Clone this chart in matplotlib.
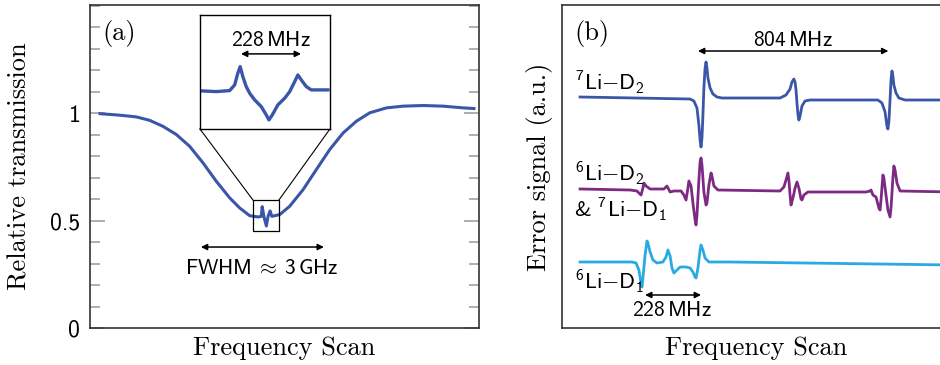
import matplotlib
matplotlib.use("Agg")
import matplotlib.pyplot as plt
from matplotlib.patches import Rectangle
from matplotlib.ticker import MultipleLocator, FixedLocator

# serif (cmr10) for axis labels, sans (cmss10) for annotations
plt.rcParams['mathtext.fontset'] = 'custom'
plt.rcParams['mathtext.rm'] = 'cmss10'
plt.rcParams['mathtext.sf'] = 'cmss10'
plt.rcParams['mathtext.it'] = 'cmss10'
plt.rcParams['mathtext.bf'] = 'cmss10'
plt.rcParams['mathtext.fallback'] = 'cm'

# -----------------------------------------------------------
# DATA
# -----------------------------------------------------------
# (a) broad transmission dip, x in GHz (relative), y relative transmission
dip_x = [-3.98, -3.51, -3.11, -2.79, -2.47, -2.15, -1.83, -1.51, -1.19, -0.87,
         -0.63, -0.39, -0.19, -0.11, -0.09, -0.05, 0.01, 0.05, 0.10, 0.14,
         0.33, 0.57, 0.89, 1.21, 1.53, 1.85, 2.17, 2.49, 2.89, 3.29,
         3.77, 4.25, 4.73, 4.99]
dip_y = [0.998, 0.991, 0.983, 0.967, 0.939, 0.901, 0.846, 0.769, 0.683, 0.606,
         0.559, 0.523, 0.517, 0.520, 0.565, 0.520, 0.475, 0.520, 0.545, 0.520,
         0.528, 0.567, 0.644, 0.738, 0.831, 0.908, 0.963, 1.002, 1.025, 1.033,
         1.036, 1.033, 1.025, 1.022]

# inset: high-resolution scan around the dip centre, x in MHz
ins_x = [-239, -185, -134, -115, -103, -94, -84, -71, -58, -39, -14, 5, 15,
         28, 49, 75, 94, 113, 125, 138, 157, 176, 208, 239]
ins_y = [38.0, 37.3, 38.3, 44.0, 55.7, 62.3, 52.3, 42.3, 35.7, 29.0, 22.3, 14.0,
         9.0, 14.0, 24.0, 30.7, 37.3, 47.3, 54.0, 49.0, 42.3, 39.0, 39.0, 39.0]

# (b) error signals, x in MHz
li7_d2_x = [76, 538, 554, 567, 575, 580, 584, 588, 592, 596, 601, 605, 609, 613,
            622, 634, 651, 672, 916, 941, 958, 966, 974, 979, 983, 987, 991, 995,
            1000, 1008, 1021, 1042, 1327, 1344, 1357, 1365, 1369, 1373, 1378,
            1382, 1386, 1390, 1394, 1403, 1415, 1441, 1640]
li7_d2_y = [0.0, -0.2, -0.4, -1.1, -2.8, -4.3, -5.0, -4.1, -1.8, 0.9, 2.9, 3.5,
            2.9, 1.9, 0.9, 0.3, 0.0, -0.1, -0.1, 0.2, 0.8, 1.5, 1.8, 1.5, 0.7,
            -0.6, -1.7, -2.3, -1.9, -0.9, -0.4, -0.3, -0.3, -0.6, -1.5, -2.9,
            -3.2, -2.5, -0.3, 1.7, 2.6, 2.1, 1.2, 0.4, -0.1, -0.3, -0.3]

mix_x = [76, 286, 315, 323, 332, 340, 344, 353, 370, 428, 441, 454, 470, 500,
         512, 521, 529, 533, 542, 550, 559, 563, 567, 575, 580, 584, 588, 596,
         605, 609, 617, 626, 630, 638, 655, 916, 932, 941, 949, 953, 958, 962,
         970, 979, 987, 995, 1004, 1008, 1016, 1033, 1277, 1294, 1298, 1306,
         1319, 1331, 1336, 1340, 1348, 1352, 1361, 1369, 1378, 1382, 1390,
         1394, 1399, 1407, 1420, 1640]
mix_y = [0.0, -0.1, -0.2, -0.4, -0.6, 0.1, 0.6, 0.3, 0.0, 0.0, 0.3, -0.3, -0.2,
         -0.2, -0.6, -1.1, 0.1, 0.8, 0.3, -1.4, -3.1, -3.6, -2.6, 0.9, 2.7, 3.1,
         2.4, -0.3, -1.6, -1.4, 0.4, 1.6, 1.3, 0.3, -0.1, -0.2, 0.2, 0.9, 1.6,
         0.9, -0.6, -1.6, -0.9, 0.1, 0.7, 0.1, -1.0, -1.1, -0.6, -0.3, -0.3,
         -0.2, -0.1, -0.6, -0.8, -1.9, -2.1, -1.1, 1.4, 1.1, -0.6, -2.1, -2.8,
         -1.9, 1.1, 2.3, 1.9, 0.6, -0.2, -0.3]

li6_d1_x = [76, 294, 311, 323, 332, 336, 340, 349, 357, 361, 370, 382, 399, 424,
            437, 445, 454, 462, 470, 479, 496, 521, 538, 550, 559, 563, 571, 580,
            584, 592, 601, 617, 706, 1640]
li6_d1_y = [0.0, 0.0, -0.1, -0.8, -2.1, -2.5, -1.6, 0.7, 2.1, 1.9, 1.0, 0.2,
            -0.1, 0.0, 0.5, 1.2, 0.6, -0.6, -1.1, -0.9, -0.5, -0.5, -0.6, -1.0,
            -1.5, -1.6, -0.6, 1.2, 1.7, 1.2, 0.4, 0.0, 0.0, -0.3]

trace_offsets = [23.1, 13.9, 6.6]

BLUE = '#3a56a8'
PURPLE = '#7d2a85'
CYAN = '#2aaae2'
GRID = '#999999'
SPINE = '#333333'

SERIF = 'cmr10'
SANS = 'cmss10'
LABEL_FS = 19
ANN_FS = 15.5


def line_label(mass, sub):
    return r'$^{' + mass + r'}\mathrm{Li}{-}\mathrm{D}_{' + sub + r'}$'


fig = plt.figure(figsize=(9.4, 3.65), dpi=100)

# -----------------------------------------------------------
# PANEL (a)
# -----------------------------------------------------------
ax = fig.add_axes([90 / 940, 1 - 328 / 365, 389 / 940, 323 / 365])
ax.plot(dip_x, dip_y, color=BLUE, lw=2.2, solid_joinstyle='round')
ax.set_xlim(-4.22, 5.11)
ax.set_ylim(0, 1.504)
ax.set_xticks([])
ax.yaxis.set_major_locator(FixedLocator([0, 0.5, 1]))
ax.set_yticklabels(['0', '0.5', '1'], fontsize=17, fontfamily=SANS)
ax.yaxis.set_minor_locator(MultipleLocator(0.1))
ax.tick_params(axis='y', which='both', direction='in', left=True, right=True,
               color=GRID, width=1.1, pad=7)
ax.tick_params(axis='y', which='major', length=11)
ax.tick_params(axis='y', which='minor', length=7)
for sp in ax.spines.values():
    sp.set_color(SPINE)
    sp.set_linewidth(1.2)

ax.set_ylabel('Relative transmission', fontsize=LABEL_FS, fontfamily=SERIF,
              va='center')
ax.yaxis.set_label_coords(-0.18, 0.5)
ax.set_xlabel('Frequency Scan', fontsize=LABEL_FS, fontfamily=SERIF,
              va='center')
ax.xaxis.set_label_coords(0.5, -0.062)
ax.text(0.033, 0.913, '(a)', transform=ax.transAxes, fontsize=LABEL_FS,
        fontfamily=SERIF, ha='left', va='center')

ax.annotate('', xy=(-1.56, 0.377), xytext=(1.39, 0.377),
            arrowprops=dict(arrowstyle='<|-|>', color='black', lw=1.1,
                            mutation_scale=9, shrinkA=0, shrinkB=0))
ax.text(-0.1, 0.28, r'$\mathrm{FWHM}\;\approx\;\mathrm{3\,GHz}$',
        fontsize=ANN_FS, ha='center', va='center')

# zoom box and connectors
bx0, bx1, by0, by1 = -0.312, 0.312, 0.452, 0.596
ix0, ix1, iy0, iy1 = -1.584, 1.536, 0.927, 1.458
ax.add_patch(Rectangle((bx0, by0), bx1 - bx0, by1 - by0, fill=False,
                       ec='black', lw=0.9, zorder=3))
ax.plot([bx0, ix0], [by1, iy0], color='black', lw=0.8)
ax.plot([bx1, ix1], [by1, iy0], color='black', lw=0.8)

axin = ax.inset_axes([ix0, iy0, ix1 - ix0, iy1 - iy0], transform=ax.transData)
axin.plot(ins_x, ins_y, color=BLUE, lw=2.4, solid_joinstyle='round')
axin.set_xlim(-247, 247)
axin.set_ylim(0, 114)
axin.set_xticks([])
axin.set_yticks([])
for sp in axin.spines.values():
    sp.set_color('black')
    sp.set_linewidth(1.0)
axin.annotate('', xy=(-91, 75), xytext=(137, 75),
              arrowprops=dict(arrowstyle='<|-|>', color='black', lw=1.1,
                              mutation_scale=9, shrinkA=0, shrinkB=0))
axin.text(23, 89, r'$\mathrm{228\,MHz}$', fontsize=ANN_FS, ha='center',
          va='center')

# -----------------------------------------------------------
# PANEL (b)
# -----------------------------------------------------------
bx = fig.add_axes([562 / 940, 1 - 328 / 365, 389 / 940, 323 / 365])
traces = [(li7_d2_x, li7_d2_y, BLUE), (mix_x, mix_y, PURPLE),
          (li6_d1_x, li6_d1_y, CYAN)]
for (xs, ys, col), off in zip(traces, trace_offsets):
    bx.plot(xs, [y + off for y in ys], color=col, lw=2.0,
            solid_joinstyle='round')
bx.set_xlim(0, 1634)
bx.set_ylim(0, 32.3)
bx.set_xticks([])
bx.set_yticks([])
for sp in bx.spines.values():
    sp.set_color(SPINE)
    sp.set_linewidth(1.2)

bx.set_ylabel('Error signal (a.u.)', fontsize=LABEL_FS, fontfamily=SERIF,
              va='center')
bx.yaxis.set_label_coords(-0.057, 0.5)
bx.set_xlabel('Frequency Scan', fontsize=LABEL_FS, fontfamily=SERIF,
              va='center')
bx.xaxis.set_label_coords(0.5, -0.062)
bx.text(0.033, 0.913, '(b)', transform=bx.transAxes, fontsize=LABEL_FS,
        fontfamily=SERIF, ha='left', va='center')

bx.text(50, 24.6, line_label('7', '2'), fontsize=16, ha='left', va='center')
bx.text(50, 15.4, line_label('6', '2'), fontsize=16, ha='left', va='center')
bx.text(50, 11.9, r'$\mathrm{&}\ $' + line_label('7', '1'), fontsize=16,
        ha='left', va='center')
bx.text(50, 4.6, line_label('6', '1'), fontsize=16, ha='left', va='center')

bx.annotate('', xy=(571, 27.7), xytext=(1371, 27.7),
            arrowprops=dict(arrowstyle='<|-|>', color='black', lw=1.1,
                            mutation_scale=9, shrinkA=0, shrinkB=0))
bx.text(970, 28.8, r'$\mathrm{804\,MHz}$', fontsize=ANN_FS, ha='center',
        va='center')
bx.annotate('', xy=(349, 3.3), xytext=(584, 3.3),
            arrowprops=dict(arrowstyle='<|-|>', color='black', lw=1.1,
                            mutation_scale=9, shrinkA=0, shrinkB=0))
bx.text(462, 1.8, r'$\mathrm{228\,MHz}$', fontsize=ANN_FS, ha='center',
        va='center')

fig.savefig('out.png', dpi=100)
